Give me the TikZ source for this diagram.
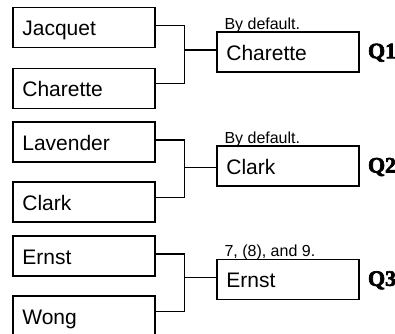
\documentclass[tikz,border=0pt]{standalone}
\usepackage{fontspec}
\setmainfont{Liberation Sans}
\newfontfamily\qfont{Liberation Serif}[BoldFeatures={FakeBold=3}]
\tikzset{
  entrant/.style={draw, line width=1.6pt, anchor=north west, outer sep=0pt,
    minimum width=142.3pt, minimum height=40pt, text width=123pt,
    inner xsep=9.5pt, align=left, text height=17pt, text depth=0pt,
    font=\fontsize{21}{25}\selectfont},
  winner/.style={entrant},
  conn/.style={line width=1.3pt},
  note/.style={anchor=base west, inner sep=0pt, font=\fontsize{16}{19}\selectfont},
  qlabel/.style={anchor=base west, inner sep=0pt, font=\qfont\bfseries\fontsize{22}{26}\selectfont},
  upper/.style={yshift=1.8pt},
  lower/.style={yshift=4.5pt}
}
\begin{document}
\begin{tikzpicture}[x=1pt,y=-1pt]
\useasboundingbox (0,0) rectangle (395,333);

% first round
\node[entrant] (jacquet)  at (12.7,7.3)   {Jacquet};
\node[entrant] (charette) at (12.7,68.3)  {Charette};
\node[entrant] (lavender) at (12.7,121.7) {Lavender};
\node[entrant] (clark)    at (12.7,181.7) {Clark};
\node[entrant] (ernst)    at (12.7,235.7) {Ernst};
\node[entrant] (wong)     at (12.7,295.7) {Wong};

% winners
\node[winner] (w1) at (216.7,31.7)  {Charette};
\node[winner] (w2) at (216.7,146)   {Clark};
\node[winner] (w3) at (216.7,259.3) {Ernst};

% bracket joints
\coordinate (j1) at (184.3,50);
\coordinate (j2) at (184.3,167.3);
\coordinate (j3) at (184.3,277.3);

\draw[conn] ([upper]jacquet.east) -| (j1) |- ([lower]charette.east);
\draw[conn] (j1) -- (w1.west |- j1);
\draw[conn] ([upper]lavender.east) -| (j2) |- ([lower]clark.east);
\draw[conn] (j2) -- (w2.west |- j2);
\draw[conn] ([upper]ernst.east) -| (j3) |- ([lower]wong.east);
\draw[conn] (j3) -- (w3.west |- j3);

% notes above the winners
\node[note] (n1) at ([xshift=7.6pt,yshift=2.4pt]w1.north west) {By default.};
\node[note] (n2) at ([xshift=7.6pt,yshift=2.4pt]w2.north west) {By default.};
\node[note] (n3) at ([xshift=7.6pt,yshift=2.4pt]w3.north west) {7, (8), and 9.};

% match labels
\node[qlabel] (q1) at ([xshift=8.8pt,yshift=-6.5pt]w1.east) {Q1};
\node[qlabel] (q2) at ([xshift=8.8pt,yshift=-6.5pt]w2.east) {Q2};
\node[qlabel] (q3) at ([xshift=8.8pt,yshift=-6.5pt]w3.east) {Q3};
\end{tikzpicture}
\end{document}
